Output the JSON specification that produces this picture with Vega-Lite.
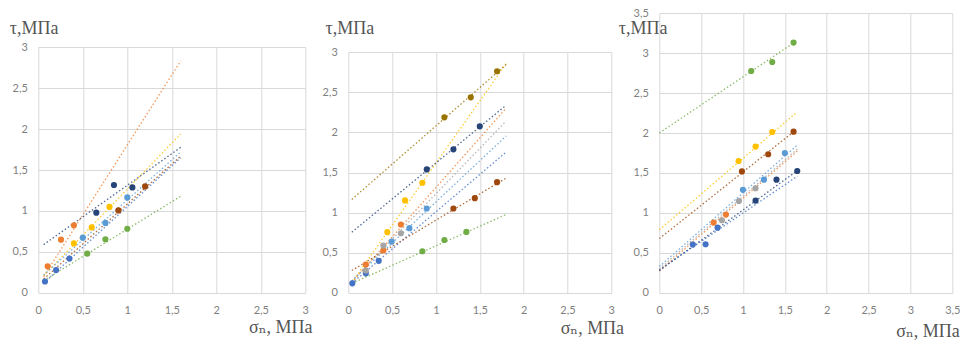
{
  "$schema": "https://vega.github.io/schema/vega-lite/v6.json",
  "padding": {"left": 9.3, "top": 7, "right": 4, "bottom": 0},
  "spacing": -6,
  "config": {
    "view": {"stroke": null},
    "axis": {
      "grid": true, "gridColor": "#d9d9d9", "gridWidth": 1,
      "domain": false, "ticks": false,
      "labelFont": "Lato", "labelFontSize": 11, "labelColor": "#7f7f7f",
      "titleFont": "Times New Roman, Liberation Serif, DejaVu Serif, serif", "titleFontSize": 18, "titleFontWeight": "normal", "titleColor": "#555555"
    },
    "axisX": {"labelPadding": 12},
    "axisY": {"labelPadding": 11}
  },
  "datasets": {
    "p1": [
      {"s": "s1", "x": 0.075, "y": 0.14}, {"s": "s1", "x": 0.2, "y": 0.28}, {"s": "s1", "x": 0.35, "y": 0.42},
      {"s": "s2", "x": 0.105, "y": 0.325}, {"s": "s2", "x": 0.255, "y": 0.65}, {"s": "s2", "x": 0.4, "y": 0.825},
      {"s": "s4", "x": 0.4, "y": 0.605}, {"s": "s4", "x": 0.6, "y": 0.8}, {"s": "s4", "x": 0.8, "y": 1.05},
      {"s": "s5", "x": 0.5, "y": 0.675}, {"s": "s5", "x": 0.754, "y": 0.855}, {"s": "s5", "x": 1.0, "y": 1.166},
      {"s": "s6", "x": 0.55, "y": 0.48}, {"s": "s6", "x": 0.754, "y": 0.654}, {"s": "s6", "x": 1.0, "y": 0.784},
      {"s": "s7", "x": 0.652, "y": 0.98}, {"s": "s7", "x": 0.85, "y": 1.317}, {"s": "s7", "x": 1.057, "y": 1.288},
      {"s": "s8", "x": 0.9, "y": 1.007}, {"s": "s8", "x": 1.2, "y": 1.3}
    ],
    "l1": [
      {"s": "s1", "x": 0.06, "y": 0.12}, {"s": "s1", "x": 1.6, "y": 1.65},
      {"s": "s2", "x": 0.06, "y": 0.2}, {"s": "s2", "x": 1.6, "y": 2.83},
      {"s": "s4", "x": 0.06, "y": 0.21}, {"s": "s4", "x": 1.6, "y": 1.94},
      {"s": "s5", "x": 0.06, "y": 0.22}, {"s": "s5", "x": 1.6, "y": 1.72},
      {"s": "s6", "x": 0.06, "y": 0.15}, {"s": "s6", "x": 1.6, "y": 1.18},
      {"s": "s7", "x": 0.06, "y": 0.59}, {"s": "s7", "x": 1.6, "y": 1.776},
      {"s": "s8", "x": 0.06, "y": 0.17}, {"s": "s8", "x": 1.6, "y": 1.67}
    ],
    "p2": [
      {"s": "s1", "x": 0.046, "y": 0.12}, {"s": "s1", "x": 0.2, "y": 0.245}, {"s": "s1", "x": 0.347, "y": 0.4},
      {"s": "s2", "x": 0.2, "y": 0.354}, {"s": "s2", "x": 0.4, "y": 0.53}, {"s": "s2", "x": 0.6, "y": 0.853},
      {"s": "s3", "x": 0.2, "y": 0.28}, {"s": "s3", "x": 0.4, "y": 0.59}, {"s": "s3", "x": 0.6, "y": 0.744},
      {"s": "s4", "x": 0.445, "y": 0.757}, {"s": "s4", "x": 0.647, "y": 1.152}, {"s": "s4", "x": 0.845, "y": 1.372},
      {"s": "s5", "x": 0.495, "y": 0.64}, {"s": "s5", "x": 0.697, "y": 0.807}, {"s": "s5", "x": 0.895, "y": 1.052},
      {"s": "s6", "x": 0.845, "y": 0.52}, {"s": "s6", "x": 1.096, "y": 0.66}, {"s": "s6", "x": 1.347, "y": 0.76},
      {"s": "s7", "x": 0.895, "y": 1.538}, {"s": "s7", "x": 1.199, "y": 1.788}, {"s": "s7", "x": 1.5, "y": 2.075},
      {"s": "s8", "x": 1.199, "y": 1.052}, {"s": "s8", "x": 1.443, "y": 1.18}, {"s": "s8", "x": 1.697, "y": 1.38},
      {"s": "s10", "x": 1.096, "y": 2.187}, {"s": "s10", "x": 1.397, "y": 2.436}, {"s": "s10", "x": 1.697, "y": 2.76}
    ],
    "l2": [
      {"s": "s1", "x": 0.04, "y": 0.12}, {"s": "s1", "x": 1.8, "y": 1.754},
      {"s": "s2", "x": 0.04, "y": 0.13}, {"s": "s2", "x": 1.8, "y": 2.3},
      {"s": "s3", "x": 0.04, "y": 0.15}, {"s": "s3", "x": 1.8, "y": 2.14},
      {"s": "s4", "x": 0.04, "y": 0.13}, {"s": "s4", "x": 1.8, "y": 2.855},
      {"s": "s5", "x": 0.04, "y": 0.15}, {"s": "s5", "x": 1.8, "y": 1.954},
      {"s": "s6", "x": 0.04, "y": 0.12}, {"s": "s6", "x": 1.8, "y": 0.977},
      {"s": "s7", "x": 0.04, "y": 0.757}, {"s": "s7", "x": 1.8, "y": 2.337},
      {"s": "s8", "x": 0.04, "y": 0.28}, {"s": "s8", "x": 1.8, "y": 1.43},
      {"s": "s10", "x": 0.04, "y": 1.165}, {"s": "s10", "x": 1.8, "y": 2.843}
    ],
    "p3": [
      {"s": "s1", "x": 0.4, "y": 0.605}, {"s": "s1", "x": 0.553, "y": 0.609}, {"s": "s1", "x": 0.696, "y": 0.817},
      {"s": "s2", "x": 0.649, "y": 0.88}, {"s": "s2", "x": 0.796, "y": 0.98},
      {"s": "s3", "x": 0.748, "y": 0.909}, {"s": "s3", "x": 0.951, "y": 1.15}, {"s": "s3", "x": 1.15, "y": 1.309},
      {"s": "s4", "x": 0.947, "y": 1.65}, {"s": "s4", "x": 1.15, "y": 1.83}, {"s": "s4", "x": 1.349, "y": 2.013},
      {"s": "s5", "x": 0.999, "y": 1.29}, {"s": "s5", "x": 1.25, "y": 1.417}, {"s": "s5", "x": 1.5, "y": 1.75},
      {"s": "s6", "x": 1.098, "y": 2.775}, {"s": "s6", "x": 1.349, "y": 2.888}, {"s": "s6", "x": 1.604, "y": 3.13},
      {"s": "s7", "x": 1.15, "y": 1.155}, {"s": "s7", "x": 1.4, "y": 1.417}, {"s": "s7", "x": 1.648, "y": 1.525},
      {"s": "s8", "x": 0.987, "y": 1.52}, {"s": "s8", "x": 1.301, "y": 1.734}, {"s": "s8", "x": 1.604, "y": 2.017}
    ],
    "l3": [
      {"s": "s1", "x": 0, "y": 0.29}, {"s": "s1", "x": 1.65, "y": 1.46},
      {"s": "s2", "x": 0, "y": 0.275}, {"s": "s2", "x": 1.65, "y": 1.775},
      {"s": "s3", "x": 0, "y": 0.3}, {"s": "s3", "x": 1.65, "y": 1.8},
      {"s": "s4", "x": 0, "y": 0.79}, {"s": "s4", "x": 1.644, "y": 2.26},
      {"s": "s5", "x": 0, "y": 0.33}, {"s": "s5", "x": 1.65, "y": 1.85},
      {"s": "s6", "x": 0, "y": 2.0}, {"s": "s6", "x": 1.61, "y": 3.13},
      {"s": "s7", "x": 0, "y": 0.28}, {"s": "s7", "x": 1.65, "y": 1.53},
      {"s": "s8", "x": 0, "y": 0.68}, {"s": "s8", "x": 1.61, "y": 2.02}
    ]
  },
  "hconcat": [
    {
      "spacing": 0,
      "vconcat": [
        {"width": 1, "height": 6, "view": {"stroke": null}, "data": {"values": []}, "mark": {"type": "point", "opacity": 0}, "encoding": {}},
        {
          "width": 267, "height": 246,
          "encoding": {
            "x": {"field": "x", "type": "quantitative", "scale": {"domain": [0, 3], "nice": false},
              "axis": {"values": [0, 0.5, 1, 1.5, 2, 2.5, 3], "labelExpr": "replace(toString(datum.value), '.', ',')", "labelFlush": false,
                "title": "σₙ, МПа", "titleX": 273.7, "titleY": 40, "titleAlign": "right", "titleBaseline": "alphabetic"}},
            "y": {"field": "y", "type": "quantitative", "scale": {"domain": [0, 3], "nice": false},
              "axis": {"values": [0, 0.5, 1, 1.5, 2, 2.5, 3], "labelExpr": "replace(toString(datum.value), '.', ',')",
                "title": "τ,МПа", "titleAngle": 0, "titleX": -29, "titleY": -14, "titleAlign": "left", "titleBaseline": "alphabetic"}},
            "color": {"field": "s", "type": "nominal", "legend": null,
              "scale": {"domain": ["s1", "s2", "s3", "s4", "s5", "s6", "s7", "s8", "s9", "s10"],
                "range": ["#4472C4", "#ED7D31", "#A5A5A5", "#FFC000", "#5B9BD5", "#70AD47", "#264478", "#9E480E", "#636363", "#997300"]}}
          },
          "layer": [
            {"data": {"name": "l1"}, "mark": {"type": "line", "strokeDash": [1.5, 2.2], "strokeWidth": 1.3, "opacity": 0.8}},
            {"data": {"name": "p1"}, "mark": {"type": "circle", "size": 38, "opacity": 1}}
          ]
        }
      ]
    },
    {
      "spacing": 0,
      "vconcat": [
        {"width": 1, "height": 6, "view": {"stroke": null}, "data": {"values": []}, "mark": {"type": "point", "opacity": 0}, "encoding": {}},
        {
          "width": 263, "height": 241,
          "title": {"text": "x", "color": "transparent", "orient": "bottom", "anchor": "start", "frame": "group", "dx": -42, "fontSize": 6, "offset": 0},
          "encoding": {
            "x": {"field": "x", "type": "quantitative", "scale": {"domain": [0, 3], "nice": false},
              "axis": {"values": [0, 0.5, 1, 1.5, 2, 2.5, 3], "labelExpr": "replace(toString(datum.value), '.', ',')", "labelFlush": false,
                "title": "σₙ, МПа", "titleX": 275.3, "titleY": 41, "titleAlign": "right", "titleBaseline": "alphabetic"}},
            "y": {"field": "y", "type": "quantitative", "scale": {"domain": [0, 3], "nice": false},
              "axis": {"values": [0, 0.5, 1, 1.5, 2, 2.5, 3], "labelExpr": "replace(toString(datum.value), '.', ',')",
                "title": "τ,МПа", "titleAngle": 0, "titleX": -23.3, "titleY": -18.3, "titleAlign": "left", "titleBaseline": "alphabetic"}},
            "color": {"field": "s", "type": "nominal", "legend": null,
              "scale": {"domain": ["s1", "s2", "s3", "s4", "s5", "s6", "s7", "s8", "s9", "s10"],
                "range": ["#4472C4", "#ED7D31", "#A5A5A5", "#FFC000", "#5B9BD5", "#70AD47", "#264478", "#9E480E", "#636363", "#997300"]}}
          },
          "layer": [
            {"data": {"name": "l2"}, "mark": {"type": "line", "strokeDash": [1.5, 2.2], "strokeWidth": 1.3, "opacity": 0.8}},
            {"data": {"name": "p2"}, "mark": {"type": "circle", "size": 38, "opacity": 1}}
          ]
        }
      ]
    },
    {
      "width": 293, "height": 280,
      "encoding": {
        "x": {"field": "x", "type": "quantitative", "scale": {"domain": [0, 3.5], "nice": false},
          "axis": {"values": [0, 0.5, 1, 1.5, 2, 2.5, 3, 3.5], "labelExpr": "replace(toString(datum.value), '.', ',')", "labelFlush": false,
            "title": "σₙ, МПа", "titleX": 300, "titleY": 44, "titleAlign": "right", "titleBaseline": "alphabetic"}},
        "y": {"field": "y", "type": "quantitative", "scale": {"domain": [0, 3.5], "nice": false},
          "axis": {"values": [0, 0.5, 1, 1.5, 2, 2.5, 3, 3.5], "labelExpr": "replace(toString(datum.value), '.', ',')",
            "title": "τ,МПа", "titleAngle": 0, "titleX": -41, "titleY": 20.6, "titleAlign": "left", "titleBaseline": "alphabetic"}},
        "color": {"field": "s", "type": "nominal", "legend": null,
          "scale": {"domain": ["s1", "s2", "s3", "s4", "s5", "s6", "s7", "s8", "s9", "s10"],
            "range": ["#4472C4", "#ED7D31", "#A5A5A5", "#FFC000", "#5B9BD5", "#70AD47", "#264478", "#9E480E", "#636363", "#997300"]}}
      },
      "layer": [
        {"data": {"name": "l3"}, "mark": {"type": "line", "strokeDash": [1.5, 2.2], "strokeWidth": 1.3, "opacity": 0.8}},
        {"data": {"name": "p3"}, "mark": {"type": "circle", "size": 38, "opacity": 1}}
      ]
    }
  ]
}
